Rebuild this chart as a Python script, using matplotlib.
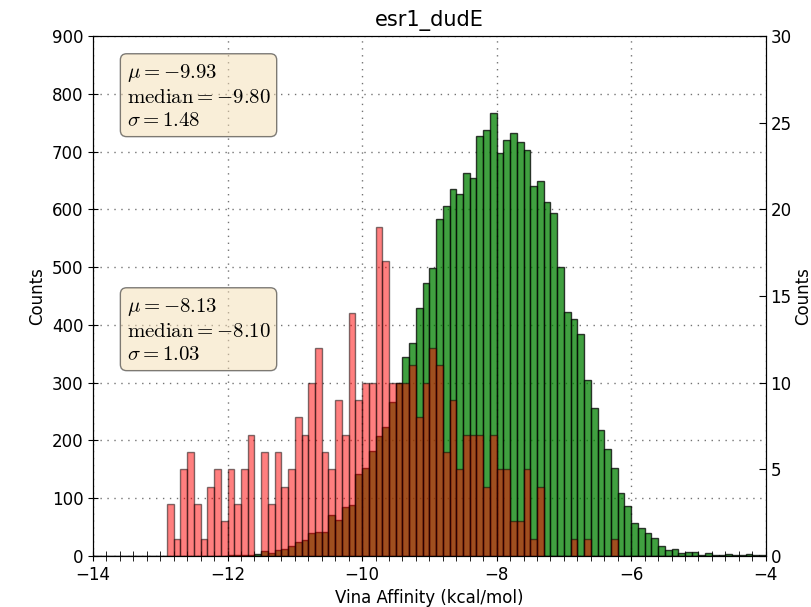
import numpy as np
import matplotlib
matplotlib.use('Agg')
import matplotlib.pyplot as plt
from matplotlib.ticker import MultipleLocator

plt.rcParams['mathtext.fontset'] = 'cm'
plt.rcParams['font.size'] = 12

# bin edges, 0.1 kcal/mol wide, from -14 to -4
edges = np.round(np.arange(-14.0, -3.95, 0.1), 1)

# decoys (left axis), one count per bin
decoy_counts = [0, 0, 0, 0, 0, 0, 0, 0, 0, 0,
                0, 0, 0, 0, 0, 0, 0, 0, 0, 0,
                1, 1, 1, 2, 3, 8, 5, 10, 13, 17,
                24, 27, 39, 42, 42, 71, 62, 85, 88, 142,
                152, 182, 207, 223, 267, 299, 344, 368, 430, 472,
                498, 583, 605, 636, 627, 663, 654, 727, 737, 767,
                697, 720, 732, 716, 703, 641, 649, 612, 594, 501,
                422, 411, 384, 305, 256, 218, 186, 153, 109, 87,
                57, 48, 40, 32, 18, 10, 13, 6, 7, 7,
                2, 6, 2, 1, 3, 2, 1, 3, 1, 2]

# actives (right axis)
active_counts = [0, 0, 0, 0, 0, 0, 0, 0, 0, 0,
                 0, 3, 1, 5, 6, 3, 1, 4, 5, 2,
                 5, 3, 5, 7, 0, 6, 3, 6, 4, 5,
                 8, 7, 10, 12, 6, 5, 9, 7, 14, 9,
                 10, 10, 19, 17, 10, 10, 10, 11, 8, 10,
                 12, 11, 6, 9, 5, 7, 7, 7, 4, 7,
                 5, 5, 2, 2, 5, 1, 4, 0, 0, 0,
                 0, 1, 0, 1, 0, 0, 0, 1, 0, 0,
                 0, 0, 0, 0, 0, 0, 0, 0, 0, 0,
                 0, 0, 0, 0, 0, 0, 0, 0, 0, 0]

active_stats = (-9.93, -9.80, 1.48)
decoy_stats = (-8.13, -8.10, 1.03)

fig = plt.figure(figsize=(8.12, 6.07), dpi=100)
ax1 = fig.add_subplot(111)
fig.subplots_adjust(left=0.1145, right=0.943, bottom=0.084, top=0.9407)

ax1.hist(edges[:-1], bins=edges, weights=decoy_counts, color='green',
         alpha=0.75, edgecolor='black', linewidth=1)
ax1.set_xlim(-14, -4)
ax1.set_ylim(0, 900)
ax1.set_yticks(np.arange(0, 901, 100))
ax1.xaxis.set_minor_locator(MultipleLocator(0.2))
ax1.grid(True, color='black', linestyle=(0, (1, 4)), linewidth=1, alpha=0.55)
ax1.set_axisbelow(True)
ax1.set_xlabel('Vina Affinity (kcal/mol)')
ax1.set_ylabel('Counts')
ax1.set_title('esr1_dudE', fontsize=15, pad=7)
ax1.tick_params(axis='both', which='major', direction='inout', length=7)
ax1.tick_params(axis='x', which='minor', direction='inout', length=7)

ax2 = ax1.twinx()
ax2.hist(edges[:-1], bins=edges, weights=active_counts, color='red',
         alpha=0.5, edgecolor='black', linewidth=1)
ax2.set_ylim(0, 30)
ax2.set_yticks(np.arange(0, 31, 5))
ax2.set_ylabel('Counts', labelpad=2)
ax2.tick_params(axis='y', direction='in', length=5)

props = dict(boxstyle='round', facecolor='wheat', alpha=0.5)
txt = '$\\mu=%.2f$\n$\\mathrm{median}=%.2f$\n$\\sigma=%.2f$'
ax1.text(0.05, 0.95, txt % active_stats, transform=ax1.transAxes,
         fontsize=15, va='top', bbox=props, zorder=5)
ax1.text(0.05, 0.50, txt % decoy_stats, transform=ax1.transAxes,
         fontsize=15, va='top', bbox=props, zorder=5)

plt.savefig('out.png', dpi=100)
